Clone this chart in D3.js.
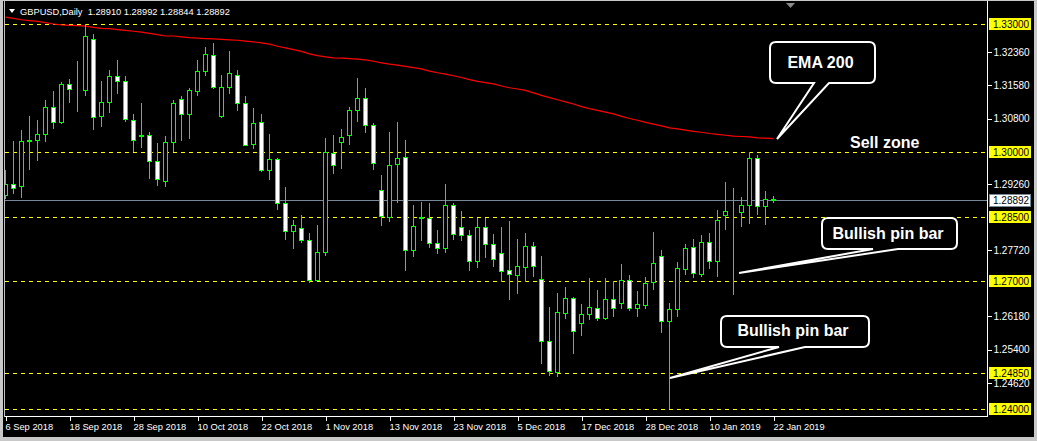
<!DOCTYPE html>
<html><head><meta charset="utf-8">
<script src="https://cdn.jsdelivr.net/npm/d3@7"></script>
<style>body{margin:0;background:#000;overflow:hidden}svg{display:block}</style>
</head><body>
<svg id="c" width="1037" height="441"></svg>
<script>
const dateLabels=["6 Sep 2018","18 Sep 2018","28 Sep 2018","10 Oct 2018","22 Oct 2018","1 Nov 2018","13 Nov 2018","23 Nov 2018","5 Dec 2018","17 Dec 2018","28 Dec 2018","10 Jan 2019","22 Jan 2019"];
const priceTicks=[1.3236,1.3158,1.3080,1.2926,1.2772,1.2618,1.2540,1.2462];
const levels=[1.33,1.30,1.285,1.27,1.2485,1.24];
const bid=1.28892;
const header="GBPUSD,Daily  1.28910 1.28992 1.28844 1.28892";

const open=[1.2900,1.2925,1.2922,1.3026,1.3030,1.3042,1.3105,1.3070,1.3159,1.3146,
1.3145,1.3266,1.3084,1.3117,1.3178,1.3166,1.3075,1.3039,1.3040,1.2979,
1.2934,1.3023,1.3124,1.3089,1.3143,1.3189,1.3227,1.3084,1.3152,1.3180,
1.3115,1.3019,1.3070,1.2959,1.2984,1.2881,1.2815,1.2822,1.2794,1.2702,
1.2766,1.2998,1.3023,1.3040,1.3098,1.3126,1.3063,1.2911,1.2848,1.2972,
1.2988,1.2771,1.2846,1.2846,1.2787,1.2776,1.2876,1.2825,1.2806,1.2745,
1.2825,1.2785,1.2764,1.2724,1.2714,1.2733,1.2780,1.2705,1.2558,1.2486,
1.2625,1.2659,1.2600,1.2621,1.2635,1.2612,1.2656,1.2647,1.2701,1.2635,
1.2642,1.2696,1.2757,1.2605,1.2633,1.2727,1.2778,1.2715,1.2790,1.2745,
1.2853,1.2861,1.2860,1.2878,1.2986,1.2874,1.28910];
const high=[1.2961,1.3029,1.3055,1.3087,1.3078,1.3125,1.3146,1.3167,1.3174,1.3216,
1.3302,1.3278,1.3169,1.3195,1.3218,1.3181,1.3092,1.3118,1.3049,1.3023,
1.3041,1.3125,1.3135,1.3152,1.3218,1.3248,1.3259,1.3182,1.3239,1.3195,
1.3134,1.3106,1.3092,1.3045,1.2990,1.2921,1.2843,1.2856,1.2813,1.2832,
1.3035,1.3043,1.3057,1.3108,1.3176,1.3153,1.3071,1.2949,1.3049,1.3073,
1.3031,1.2879,1.2886,1.2884,1.2821,1.2928,1.2884,1.2865,1.2821,1.2849,
1.2850,1.2811,1.2828,1.2842,1.2800,1.2814,1.2792,1.2761,1.2641,1.2674,
1.2687,1.2663,1.2648,1.2709,1.2681,1.2709,1.2701,1.2741,1.2715,1.2679,
1.2711,1.2815,1.2774,1.2649,1.2745,1.2787,1.2799,1.2808,1.2813,1.2867,
1.2932,1.2918,1.2899,1.3002,1.2995,1.2911,1.28992];
const low=[1.2894,1.2906,1.2896,1.2962,1.2981,1.3027,1.3058,1.3068,1.3118,1.3097,
1.3135,1.3055,1.3062,1.3095,1.3139,1.3074,1.3002,1.3013,1.2940,1.2924,
1.2921,1.3004,1.3029,1.3034,1.3134,1.3181,1.3150,1.3083,1.3139,1.3100,
1.3016,1.3011,1.2957,1.2938,1.2868,1.2798,1.2777,1.2791,1.2697,1.2701,
1.2761,1.2952,1.2964,1.3020,1.3074,1.3047,1.2960,1.2829,1.2839,1.2883,
1.2724,1.2758,1.2794,1.2778,1.2765,1.2768,1.2798,1.2796,1.2726,1.2733,
1.2756,1.2735,1.2700,1.2658,1.2672,1.2700,1.2712,1.2508,1.2480,1.2478,
1.2612,1.2532,1.2574,1.2611,1.2607,1.2610,1.2618,1.2635,1.2632,1.2617,
1.2635,1.2681,1.2581,1.2403,1.2617,1.2715,1.2708,1.2710,1.2729,1.2710,
1.2820,1.2670,1.2827,1.2834,1.2857,1.2832,1.28844];
const close=[1.2925,1.2916,1.3026,1.3030,1.3044,1.3105,1.3070,1.3159,1.3147,1.3145,
1.3271,1.3082,1.3117,1.3178,1.3166,1.3077,1.3030,1.3041,1.2979,1.2937,
1.3023,1.3115,1.3089,1.3145,1.3189,1.3231,1.3152,1.3152,1.3185,1.3115,
1.3018,1.3068,1.2959,1.2984,1.2881,1.2817,1.2829,1.2794,1.2702,1.2766,
1.3000,1.2970,1.3037,1.3098,1.3126,1.3063,1.2974,1.2851,1.2970,1.2986,
1.2771,1.2827,1.2850,1.2787,1.2776,1.2876,1.2808,1.2806,1.2745,1.2825,
1.2785,1.2750,1.2723,1.2716,1.2734,1.2780,1.2735,1.2560,1.2488,1.2626,
1.2659,1.2582,1.2621,1.2638,1.2612,1.2656,1.2635,1.2701,1.2635,1.2645,
1.2694,1.2741,1.2605,1.2633,1.2729,1.2776,1.2717,1.2790,1.2745,1.2841,
1.2862,1.2860,1.2878,1.2986,1.2874,1.2892,1.28892];
const ema200=[1.3316,1.3313,1.3310,1.3308,1.3306,1.3303,1.3300,1.3298,1.3297,1.3296,
1.3295,1.3292,1.3290,1.3289,1.3287,1.3285,1.3283,1.3281,1.3278,1.3275,
1.3272,1.3272,1.3270,1.3268,1.3267,1.3266,1.3265,1.3264,1.3263,1.3262,
1.3260,1.3258,1.3256,1.3253,1.3248,1.3244,1.3240,1.3236,1.3230,1.3226,
1.3223,1.3221,1.3220,1.3219,1.3218,1.3216,1.3213,1.3209,1.3206,1.3204,
1.3201,1.3198,1.3195,1.3190,1.3186,1.3183,1.3179,1.3175,1.3170,1.3166,
1.3163,1.3160,1.3155,1.3151,1.3148,1.3145,1.3139,1.3133,1.3128,1.3123,
1.3118,1.3113,1.3107,1.3102,1.3098,1.3094,1.3090,1.3084,1.3079,1.3075,
1.3070,1.3066,1.3062,1.3057,1.3055,1.3052,1.3049,1.3047,1.3044,1.3042,
1.3040,1.3038,1.3037,1.3036,1.3034,1.3033,1.3032];

const FONT="'Liberation Sans', Arial, sans-serif";
const svg=d3.select("#c");
const W=1037,H=441, L=4.5, R=987.5, B=416.5;

// window background / frame
svg.append("rect").attr("width",W).attr("height",H).attr("fill","#c8c8c8");
svg.append("rect").attr("x",3).attr("y",1).attr("width",1031).attr("height",436).attr("fill","#000");

const n=open.length;
const x=d3.scaleLinear().domain([0,1]).range([5.5,13.5]);
const y=d3.scaleLinear().domain([1.24,1.33]).range([409,24]);
const py=v=>Math.round(y(v))+0.5;

svg.append("defs").append("clipPath").attr("id","plot")
  .append("rect").attr("x",5).attr("y",0).attr("width",R-5).attr("height",B);

// horizontal levels
const gl=svg.append("g").attr("shape-rendering","crispEdges");
gl.selectAll("line.lv").data(levels).join("line").attr("class","lv")
  .attr("x1",L).attr("x2",R).attr("y1",d=>py(d)).attr("y2",d=>py(d))
  .attr("stroke","#ffff00").attr("stroke-dasharray","4,4");
gl.append("line").attr("x1",L).attr("x2",R).attr("y1",py(bid)).attr("y2",py(bid)).attr("stroke","#778899");

const plot=svg.append("g").attr("clip-path","url(#plot)");
// EMA 200
plot.append("path").datum(ema200)
  .attr("d",d3.line().x((d,i)=>x(i)).y(d=>y(d)))
  .attr("fill","none").attr("stroke","#ff0000").attr("stroke-width",1.2);

// candles
const idx=d3.range(n);
const gc=plot.append("g").attr("shape-rendering","crispEdges");
gc.selectAll("line.w").data(idx).join("line").attr("class","w")
  .attr("x1",i=>x(i)).attr("x2",i=>x(i)).attr("y1",i=>py(high[i])).attr("y2",i=>py(low[i]))
  .attr("stroke","#00ff00");
gc.selectAll("rect.b").data(idx).join("rect").attr("class","b")
  .attr("x",i=>x(i)-2).attr("width",4)
  .attr("y",i=>py(Math.max(open[i],close[i])))
  .attr("height",i=>Math.max(0,py(Math.min(open[i],close[i]))-py(Math.max(open[i],close[i]))))
  .attr("fill",i=>close[i]>=open[i]?"#000":"#fff")
  .attr("stroke","#00ff00");

// frame lines
const gf=svg.append("g").attr("shape-rendering","crispEdges").attr("stroke","#c0c0c0");
gf.append("line").attr("x1",L).attr("x2",L).attr("y1",1).attr("y2",B);
gf.append("line").attr("x1",L).attr("x2",R).attr("y1",B).attr("y2",B).attr("stroke","#fff");
gf.append("line").attr("x1",R).attr("x2",R).attr("y1",1).attr("y2",B).attr("stroke","#fff");

// right price axis
const ya=d3.axisRight(y).tickValues(priceTicks).tickSize(4).tickPadding(2).tickFormat(d3.format(".5f"));
const gy=svg.append("g").attr("transform",`translate(${R},0.5)`).call(ya);
gy.select(".domain").remove();
gy.selectAll("line").attr("stroke","#fff").attr("shape-rendering","crispEdges");
gy.selectAll("text").attr("fill","#fff").attr("font-family",FONT).attr("font-size","10px").attr("x",6);

// level labels
const gll=svg.append("g");
gll.selectAll("rect").data(levels).join("rect")
  .attr("x",989).attr("y",d=>py(d)-6.5).attr("width",42).attr("height",12).attr("fill","#ffff00");
gll.selectAll("text").data(levels).join("text")
  .attr("x",993).attr("y",d=>py(d)+3.5).text(d=>d3.format(".5f")(d))
  .attr("fill","#000").attr("font-family",FONT).attr("font-size","10px");
svg.append("rect").attr("x",989.5).attr("y",py(bid)-6.5).attr("width",41).attr("height",12)
  .attr("fill","#fff").attr("stroke","#778899").attr("shape-rendering","crispEdges");
svg.append("text").attr("x",993).attr("y",py(bid)+3.5).text(d3.format(".5f")(bid))
  .attr("fill","#000").attr("font-family",FONT).attr("font-size","10px");

// bottom date axis
const tickIdx=dateLabels.map((d,k)=>k*8);
const xa=d3.axisBottom(x).tickValues(tickIdx).tickSize(4).tickFormat((d,k)=>dateLabels[k]);
const gx=svg.append("g").attr("transform",`translate(0,${B})`).call(xa);
gx.select(".domain").remove();
gx.selectAll("line").attr("stroke","#fff").attr("shape-rendering","crispEdges");
gx.selectAll("text").attr("fill","#fff").attr("font-family",FONT).attr("font-size","9.3px")
  .attr("text-anchor","start").attr("x",-0.5).attr("y",7).attr("dy","0.71em");

// header
svg.append("path").attr("d","M9,9 L15,9 L12,13 Z").attr("fill","#fff");
svg.append("text").attr("x",20).attr("y",14.5).text(header)
  .attr("fill","#fff").attr("font-family",FONT).attr("font-size","9.3px").style("white-space","pre");
svg.append("path").attr("d","M786,3 L795,3 L790.5,8 Z").attr("fill","#8a8a8a");

// callouts
function callout(x0,y0,x1,y1,r,xa,xb,tx,ty,label,cx,cy){
  const p=`M${x0+r},${y0} H${x1-r} Q${x1},${y0} ${x1},${y0+r} V${y1-r} Q${x1},${y1} ${x1-r},${y1} H${xa} L${tx},${ty} L${xb},${y1} H${x0+r} Q${x0},${y1} ${x0},${y1-r} V${y0+r} Q${x0},${y0} ${x0+r},${y0} Z`;
  svg.append("path").attr("d",p).attr("fill","#000").attr("stroke","#fff").attr("stroke-width",2).attr("stroke-linejoin","miter");
  svg.append("text").attr("x",cx).attr("y",cy).attr("text-anchor","middle").attr("dy","0.36em")
    .text(label).attr("fill","#fff").attr("font-family",FONT).attr("font-weight","bold").attr("font-size","16px");
}
callout(770,42,875,83,6,829,814,777,139,"EMA 200",820.5,62.5);
callout(822,218,957,249,6,898,873,739,273,"Bullish pin bar",888,233);
callout(721,316,869,347,6,805,779,670,378,"Bullish pin bar",793,330);
svg.append("text").attr("x",850).attr("y",142).attr("dy","0.36em").text("Sell zone")
  .attr("fill","#fff").attr("font-family",FONT).attr("font-weight","bold").attr("font-size","16px");
</script>
</body></html>
